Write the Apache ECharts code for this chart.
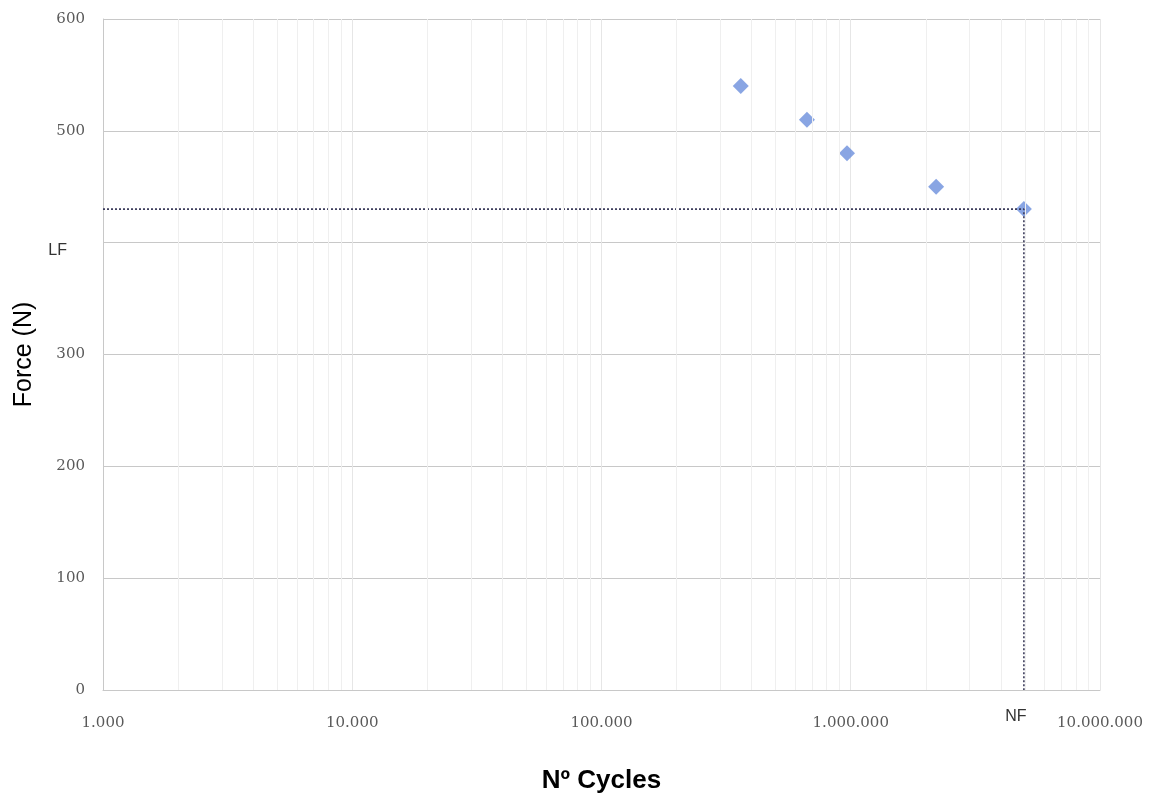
<!DOCTYPE html>
<html>
<head>
<meta charset="utf-8">
<script src="https://cdn.jsdelivr.net/npm/echarts@6/dist/echarts.min.js"></script>
<style>html,body{margin:0;padding:0;background:#fff}#c{width:1149px;height:794px}</style>
</head>
<body>
<div id="c"></div>
<script>
// Data
var cycles = [362000, 667000, 966000, 2200000, 4950000];
var forces = [540, 510, 480, 450, 430];
var LF = 430;
var NF = 4950000;
var xTickLabels = ['1.000', '10.000', '100.000', '1.000.000', '10.000.000'];
var minorMultipliers = [2, 3, 4, 5, 6, 7, 8, 9];
var decades = [1000, 10000, 100000, 1000000];

var minorLines = [];
decades.forEach(function (d) {
  minorMultipliers.forEach(function (m) { minorLines.push({ xAxis: d * m }); });
});

var pts = cycles.map(function (c, i) { return [c, forces[i]]; });

var chart = echarts.init(document.getElementById('c'));
chart.setOption({
  animation: false,
  grid: { left: 103, right: 49, top: 19, bottom: 104, containLabel: false, outerBoundsMode: 'none' },
  xAxis: {
    type: 'log', logBase: 10, min: 1000, max: 10000000,
    name: 'Nº Cycles', nameLocation: 'middle', nameGap: 78,
    nameTextStyle: { fontFamily: 'Liberation Sans', fontWeight: 'bold', fontSize: 26, color: '#000' },
    axisLine: { show: true, lineStyle: { color: '#c8c8c8', width: 1 } },
    axisTick: { show: false },
    axisLabel: {
      margin: 26, fontFamily: 'DejaVu Serif', fontSize: 15, color: '#5a5a5a',
      formatter: function (v) {
        var i = Math.round(Math.log10(v)) - 3;
        return xTickLabels[i] !== undefined ? xTickLabels[i] : '';
      }
    },
    splitLine: { show: true, lineStyle: { color: '#e6e6e6', width: 1 } }
  },
  yAxis: {
    type: 'value', min: 0, max: 600, interval: 100,
    name: 'Force (N)', nameLocation: 'middle', nameGap: 66, nameRotate: 90,
    nameTextStyle: { fontFamily: 'Liberation Sans', fontSize: 25, color: '#000' },
    axisLine: { show: true, lineStyle: { color: '#c8c8c8', width: 1 } },
    axisTick: { show: false },
    axisLabel: {
      margin: 18, fontFamily: 'DejaVu Serif', fontSize: 15, color: '#5a5a5a',
      formatter: function (v) { return v === 400 ? '{lf|LF}' : String(v); },
      rich: {
        lf: { fontFamily: 'Liberation Sans', fontSize: 16, color: '#333', padding: [16, 18, 0, 0] }
      }
    },
    splitLine: { show: true, lineStyle: { color: '#c8c8c8', width: 1 } }
  },
  series: [
    {
      type: 'line', silent: true, symbol: 'none', data: [],
      markLine: {
        silent: true, symbol: 'none', label: { show: false },
        lineStyle: { color: '#efefef', type: 'solid', width: 1 },
        data: minorLines
      }
    },
    {
      type: 'line', silent: true,
      data: [[1000, LF], [NF, LF], [NF, 0]],
      symbol: 'none', showSymbol: false,
      lineStyle: { color: '#3d3d5c', width: 1.6, type: [2, 2] },
      label: { show: false },
      markPoint: {
        symbol: 'circle', symbolSize: 0,
        data: [{ coord: [NF, 0] }],
        label: { show: true, position: 'bottom', distance: 19, offset: [-8, 0], formatter: 'NF',
          fontFamily: 'Liberation Sans', fontSize: 16, color: '#333' }
      }
    },
    {
      type: 'scatter', data: pts, symbol: 'diamond', symbolSize: 16,
      itemStyle: { color: '#6b8fdc' }
    }
  ]
});
</script>
</body>
</html>
